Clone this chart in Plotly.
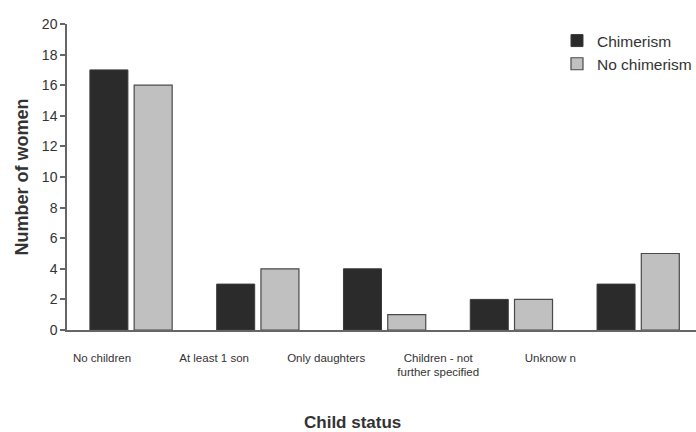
import plotly.graph_objects as go

# Child status categories and counts of women per group
categories = ["No children", "At least 1 son", "Only daughters",
              "Children - not<br>further specified", "Unknow n"]
chimerism = [17, 3, 4, 2, 3]
no_chimerism = [16, 4, 1, 2, 5]
y_ticks = list(range(0, 21, 2))

positions = list(range(len(categories)))
FONT = "Liberation Sans, Arial, sans-serif"

fig = go.Figure()
fig.add_trace(go.Bar(
    x=positions, y=chimerism, name="Chimerism",
    marker=dict(color="#2b2b2b", line=dict(color="#3a3a3a", width=1)),
))
fig.add_trace(go.Bar(
    x=positions, y=no_chimerism, name="No chimerism",
    marker=dict(color="#c0c0c0", line=dict(color="#4a4a4a", width=1.2)),
))
# Carrier trace for the category label axis
fig.add_trace(go.Scatter(
    x=positions, y=[None] * len(positions), xaxis="x2",
    showlegend=False, hoverinfo="skip", mode="markers",
))

fig.update_layout(
    width=696, height=432,
    margin=dict(l=67, r=0, t=24, b=102, autoexpand=False),
    paper_bgcolor="white", plot_bgcolor="white",
    barmode="group", bargap=0.302, bargroupgap=0.141,
    font=dict(family=FONT, color="#333333"),
    showlegend=True,
    legend=dict(
        x=0.779, y=1.0, xanchor="left", yanchor="top",
        bgcolor="rgba(0,0,0,0)", font=dict(size=15.5, color="#333333"),
        tracegroupgap=0, itemwidth=30,
    ),
    xaxis=dict(
        range=[-0.505, 4.456], showticklabels=False, ticks="",
        showgrid=False, zeroline=False,
        showline=True, linecolor="#666666", linewidth=1.5,
    ),
    xaxis2=dict(
        overlaying="x", range=[-0.3125, 5.30],
        tickmode="array", tickvals=positions, ticktext=categories,
        ticks="", showgrid=False, zeroline=False, showline=False,
        tickfont=dict(size=11.5, color="#333333"), side="bottom",
        ticklabelstandoff=19,
    ),
    yaxis=dict(
        range=[0, 20], tickmode="array", tickvals=y_ticks,
        ticks="outside", ticklen=5, tickcolor="#666666", tickwidth=1.5,
        showgrid=False, zeroline=False,
        showline=True, linecolor="#666666", linewidth=1.5,
        tickfont=dict(size=14, color="#333333"),
        title=dict(text="<b>Number of women</b>", standoff=9,
                   font=dict(size=18, color="#333333")),
    ),
    annotations=[dict(
        text="<b>Child status</b>", xref="paper", yref="paper",
        x=0.454, y=-0.302, xanchor="center", yanchor="middle",
        showarrow=False, font=dict(size=17, color="#333333"),
    )],
)

fig.write_html("out.html")
